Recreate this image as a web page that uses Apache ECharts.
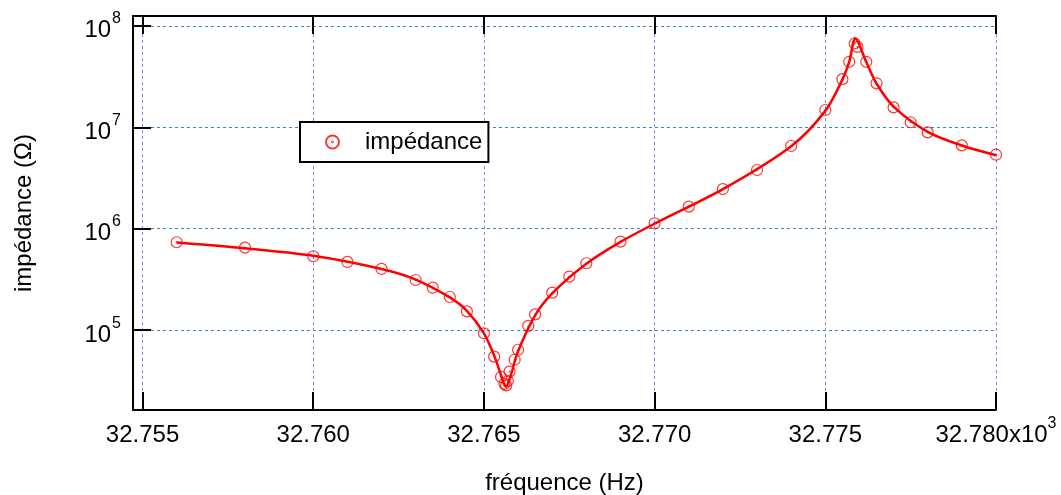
<!DOCTYPE html>
<html><head><meta charset="utf-8">
<script src="https://cdn.jsdelivr.net/npm/echarts@6/dist/echarts.min.js"></script>
<style>html,body{margin:0;padding:0;background:#fff}#c{width:1061px;height:495px}</style>
</head><body><div id="c"></div>
<script>
// measured points (frequency in kHz, impedance in ohm)
const freqKHz = [32.756, 32.758, 32.760, 32.761, 32.762, 32.763, 32.7635, 32.764, 32.7645, 32.765,
  32.7653, 32.7655, 32.7656, 32.76565, 32.7657, 32.76575, 32.7659, 32.766, 32.7663, 32.7665,
  32.767, 32.7675, 32.768, 32.769, 32.770, 32.771, 32.772, 32.773, 32.774, 32.775,
  32.7755, 32.7757, 32.77586, 32.77594, 32.7762, 32.7765, 32.777, 32.7775, 32.778, 32.779, 32.780];
const impedance = [7.35e5, 6.5e5, 5.35e5, 4.7e5, 4.01e5, 3.12e5, 2.62e5, 2.12e5, 1.53e5, 9.3e4,
  5.48e4, 3.45e4, 2.95e4, 2.85e4, 3.15e4, 3.9e4, 5.1e4, 6.4e4, 1.1e5, 1.43e5,
  2.34e5, 3.37e5, 4.56e5, 7.45e5, 1.13e6, 1.65e6, 2.46e6, 3.79e6, 6.53e6, 1.48e7,
  2.98e7, 4.42e7, 6.7e7, 6.2e7, 4.42e7, 2.71e7, 1.57e7, 1.12e7, 8.9e6, 6.63e6, 5.36e6];
// fitted curve
const curveFreqKHz = [32.756, 32.758, 32.760, 32.762, 32.763, 32.764, 32.7645, 32.765, 32.7653, 32.7655,
  32.7656, 32.76565, 32.7657, 32.7658, 32.766, 32.7665, 32.767, 32.768, 32.769, 32.770,
  32.772, 32.774, 32.775, 32.7755, 32.7757, 32.77588, 32.7762, 32.7765, 32.777, 32.778, 32.779, 32.780];
const curveImpedance = [7.3e5, 6.4e5, 5.4e5, 4.0e5, 3.15e5, 2.1e5, 1.55e5, 9.3e4, 5.6e4, 3.6e4,
  2.9e4, 2.75e4, 2.95e4, 3.7e4, 6.2e4, 1.4e5, 2.3e5, 4.5e5, 7.4e5, 1.12e6,
  2.45e6, 6.5e6, 1.45e7, 2.95e7, 4.4e7, 7.5e7, 4.4e7, 2.7e7, 1.6e7, 9.0e6, 6.6e6, 5.3e6];
const xTickValues = [32.755, 32.760, 32.765, 32.770, 32.775, 32.780];
const xTickLabels = ['{b|32.755}', '{b|32.760}', '{b|32.765}', '{b|32.770}', '{b|32.775}', '{b|32.780x10}{sup|3}'];
const yTickExponents = [5, 6, 7, 8];

const FONT = 'Liberation Sans, Arial, Helvetica, sans-serif';
const chart = echarts.init(document.getElementById('c'), null, {renderer: 'canvas'});
const pts = freqKHz.map((f, i) => [f, impedance[i]]);
const curve = curveFreqKHz.map((f, i) => [f, curveImpedance[i]]);

function xLabel(v) {
  for (let i = 0; i < xTickValues.length; i++) {
    if (Math.abs(v - xTickValues[i]) < 1e-7) return xTickLabels[i];
  }
  return '';
}
function yLabel(v) {
  const e = Math.log10(v);
  for (const k of yTickExponents) if (Math.abs(e - k) < 1e-6) return '{b|10}{sup|' + k + '}';
  return '';
}
const ringDot = 'path://M10,5A5,5,0,1,1,0,5A5,5,0,1,1,10,5Z M5.3,5A0.3,0.3,0,1,1,4.7,5A0.3,0.3,0,1,1,5.3,5Z';

chart.setOption({
  animation: false,
  backgroundColor: '#ffffff',
  textStyle: {fontFamily: FONT},
  grid: {left: 133, right: 65, top: 16, bottom: 85, containLabel: false, outerBoundsMode: 'none'},
  legend: {
    data: [{name: 'impédance', icon: ringDot}],
    left: 300, top: 122,
    orient: 'vertical',
    itemWidth: 13, itemHeight: 13,
    padding: [8, 6, 8, 25],
    borderColor: '#000', borderWidth: 2, borderRadius: 0,
    backgroundColor: '#fff',
    textStyle: {fontFamily: FONT, fontSize: 24, color: '#000', padding: [0, 0, 0, 21]}
  },
  xAxis: [{
    type: 'value', min: 32.75472, max: 32.780,
    name: 'fréquence (Hz)', nameLocation: 'middle', nameGap: 61,
    nameTextStyle: {fontFamily: FONT, fontSize: 24, color: '#000'},
    axisLine: {show: true, onZero: false, lineStyle: {color: '#000', width: 2}},
    axisTick: {show: true, inside: true, length: 18, lineStyle: {color: '#000', width: 2}},
    axisLabel: {show: true, margin: 2, formatter: xLabel, color: '#000',
      showMinLabel: true, showMaxLabel: true, hideOverlap: false,
      rich: {
        b: {fontSize: 24, fontFamily: FONT, color: '#000', padding: [11, 0, 0, 0]},
        sup: {fontSize: 16, verticalAlign: 'top', padding: [4, 0, 0, 0], fontFamily: FONT, color: '#000'}
      }},
    splitLine: {show: true, lineStyle: {color: '#7f7fff', width: 1, type: [3, 3]}}
  }, {
    type: 'value', min: 32.75472, max: 32.780, position: 'top',
    axisLine: {show: true, onZero: false, lineStyle: {color: '#000', width: 2}},
    axisTick: {show: true, inside: true, length: 18, lineStyle: {color: '#000', width: 2}},
    axisLabel: {show: false}, splitLine: {show: false}
  }],
  yAxis: {
    type: 'log', logBase: 10, min: 16300, max: 1.25e8,
    name: 'impédance (Ω)', nameLocation: 'middle', nameGap: 97,
    nameTextStyle: {fontFamily: FONT, fontSize: 24, color: '#000'},
    axisLine: {show: true, onZero: false, lineStyle: {color: '#000', width: 2}},
    axisTick: {show: true, inside: true, length: 18, lineStyle: {color: '#000', width: 2}},
    minorTick: {show: false},
    axisLabel: {show: true, margin: 12, formatter: yLabel, color: '#000',
      rich: {
        b: {fontSize: 24, fontFamily: FONT, color: '#000', padding: [10, 0, 0, 0]},
        sup: {fontSize: 16, verticalAlign: 'top', padding: [2, 0, 0, 1], fontFamily: FONT, color: '#000'}
      }},
    splitLine: {show: true, lineStyle: {color: '#2f8ac4', width: 1, type: [3, 3]}}
  },
  series: [{
    name: 'modèle', type: 'line', data: curve, xAxisIndex: 0,
    showSymbol: false, symbol: 'none', smooth: 0.3,
    lineStyle: {color: '#ff0000', width: 2.5}, z: 2, silent: true
  }, {
    name: 'impédance', type: 'scatter', data: pts, xAxisIndex: 0,
    symbol: 'circle', symbolSize: 11,
    itemStyle: {color: 'rgba(255,255,255,0)', borderColor: '#ff0000', borderWidth: 1.2},
    z: 3
  }, {
    name: 'centres', type: 'scatter', data: pts, xAxisIndex: 0,
    symbol: 'circle', symbolSize: 2, silent: true,
    itemStyle: {color: '#ff0000'}, z: 3
  }]
});
</script></body></html>
